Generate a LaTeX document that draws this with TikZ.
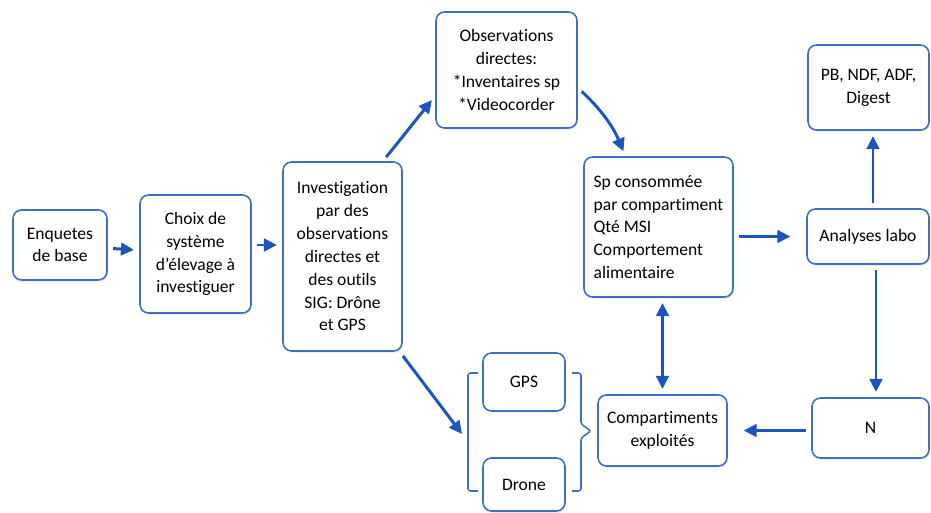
\documentclass[tikz,border=0pt]{standalone}
\usepackage{fontspec}
\setmainfont{Carlito}[Ligatures=NoCommon]
\usetikzlibrary{arrows.meta,shadows}
\definecolor{cadre}{HTML}{3D6FC6}
\definecolor{fleblue}{HTML}{1A55C0}
\tikzset{
  bloc/.style={draw=cadre,line width=0.9pt,rounded corners=0.17cm,fill=white,
    align=center,inner sep=2pt,font=\fontsize{10}{13}\selectfont,
    drop shadow={opacity=0.18,shadow xshift=0.6pt,shadow yshift=-1pt}},
  fleche/.style={draw=fleblue,line width=1.7pt,-{Triangle[length=2.6mm,width=2.5mm]},
    shorten <=3pt,shorten >=3pt},
  doublefleche/.style={fleche,{Triangle[length=2.6mm,width=2.5mm]}-{Triangle[length=2.6mm,width=2.5mm]}},
  crochet/.style={draw=cadre,line width=0.9pt,rounded corners=1.5pt}
}
\begin{document}
\begin{tikzpicture}[x=0.02cm,y=-0.02cm]
    \useasboundingbox (0,0) rectangle (931,513);
    % chaine du haut
    \node[bloc,minimum width=1.88cm,minimum height=1.4cm] (enq) at (60,245) {Enquetes\\de base};
    \node[bloc,minimum width=2.22cm,minimum height=2.36cm] (choix) at (195.5,254) {Choix de\\système\\d’élevage à\\investiguer};
    \node[bloc,minimum width=2.38cm,minimum height=3.78cm] (inv) at (342.5,256.5) {Investigation\\par des\\observations\\directes et\\des outils\\SIG: Drône\\et GPS};
    \node[bloc,minimum width=2.82cm,minimum height=2.32cm] (obs) at (506.5,70) {Observations\\directes:\\*Inventaires sp\\*Videocorder};
    \node[bloc,align=left,minimum width=2.98cm,minimum height=2.8cm] (sp) at (658.5,227) {Sp consommée\\par compartiment\\Qté MSI\\Comportement\\alimentaire};
    \node[bloc,minimum width=2.44cm,minimum height=1.1cm] (ana) at (868,236.5) {Analyses labo};
    \node[bloc,minimum width=2.42cm,minimum height=1.7cm] (pb) at (868.5,87.5) {PB, NDF, ADF,\\Digest};
    % chaine du bas
    \node[bloc,minimum width=2.34cm,minimum height=1.2cm] (n) at (870.5,428) {N};
    \node[bloc,minimum width=2.58cm,minimum height=1.42cm] (comp) at (662.5,430.5) {Compartiments\\exploités};
    \node[bloc,minimum width=1.64cm,minimum height=1.16cm] (gps) at (524,382) {GPS};
    \node[bloc,minimum width=1.64cm,minimum height=1.06cm] (drone) at (524,484.5) {Drone};
    % crochets
    \draw[crochet] (478,373) -| (468,491) -- (478,491);
    \draw[crochet] (572,373) -- (581,373) -- (581,424) -- (591,431) -- (581,438) -- (581,491) -- (572,491);
    \coordinate (crochet) at (462,434);
    % fleches
    \draw[fleche] (enq) -- (choix);
    \draw[fleche] (choix.east |- enq.east) -- (inv.west |- enq.east);
    \draw[fleche] (inv.67) -- (obs.200);
    \draw[fleche,bend left=12] (obs.-14) to (sp.115);
    \draw[fleche,shorten >=9pt] (sp.east |- ana.west) -- (ana.west);
    \draw[fleche] (ana.north -| 873,0) -- (pb.south -| 873,0);
    \draw[fleche] (ana.south -| 876,0) -- (n.north -| 876,0);
    \draw[fleche,shorten >=9pt] (n.west |- comp.east) -- (comp.east);
    \draw[doublefleche] (sp.south -| comp.north) -- (comp.north);
    \draw[fleche,shorten >=0pt] (inv.-59) -- (crochet);
\end{tikzpicture}
\end{document}
